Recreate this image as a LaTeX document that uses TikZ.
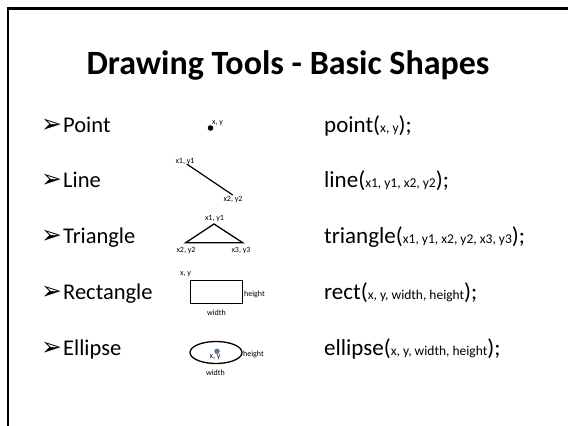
\documentclass[tikz,border=0pt]{standalone}
\usepackage{fontspec}
\setmainfont{Carlito}
\newfontfamily\symfont{DejaVu Sans}
\definecolor{dotblue}{RGB}{79,129,189}
\newcommand{\fsz}[1]{\fontsize{#1}{#1}\selectfont}
\begin{document}
\begin{tikzpicture}[x=1pt,y=-1pt,
  title/.style={anchor=base,inner sep=0pt,font=\fsz{34}\bfseries},
  item/.style={anchor=base west,inner sep=0pt,font=\fsz{22.5}},
  bul/.style={anchor=base west,inner sep=0pt,font=\symfont\fsz{25}},
  code/.style={anchor=base west,inner sep=0pt,font=\fsz{23}},
  lab/.style={inner sep=0pt,font=\fsz{8}},
  shape line/.style={draw=black,line width=1.3pt,line join=miter}]
\useasboundingbox (0,0) rectangle (568,426);
\fill[white] (0,0) rectangle (568,426);
% frame (top and left edges)
\coordinate (fr1) at (568,8.7);
\coordinate (fr2) at (8,8.7);
\coordinate (fr3) at (8,426);
\draw[line width=2.6pt,line cap=rect] (fr1) -- (fr2) -- (fr3);
% title
\node[title] (ttl) at (288,74) {Drawing Tools - Basic Shapes};
% bullets and items
\foreach \n/\t/\yy in {p/Point/132,l/Line/187.5,t/Triangle/243,r/Rectangle/299,e/Ellipse/355}{
  \node[bul] (b\n) at (41,\yy) {➢};
  \node[item] (i\n) at (63,\yy) {\t};
}
% code column
\node[code] (cp) at (324,132) {point({\fsz{13.5}x, y});};
\node[code] (cl) at (324,187.5) {line({\fsz{13.5}x1, y1, x2, y2});};
\node[code] (ct) at (324,243) {triangle({\fsz{13.5}x1, y1, x2, y2, x3, y3});};
\node[code] (cr) at (324,299) {rect({\fsz{13.5}x, y, width, height});};
\node[code] (ce) at (324,355) {ellipse({\fsz{13.5}x, y, width, height});};
% point
\fill[black] (210.5,128) circle (2.8);
\node[lab] (pxy) at (217.5,123.5) {x, y};
% line
\coordinate (l1) at (186.7,164);
\coordinate (l2) at (232.7,195);
\draw[line width=1.2pt] (l1) -- (l2);
\node[lab] (l1t) at (185,161.5) {x1, y1};
\node[lab] (l2t) at (233,200) {x2, y2};
% triangle
\coordinate (t1) at (214,224);
\coordinate (t2) at (185.7,242.7);
\coordinate (t3) at (242.7,242.7);
\draw[shape line] (t1) -- (t2) -- (t3) -- cycle;
\node[lab] (t1t) at (214.5,218.5) {x1, y1};
\node[lab] (t2t) at (186,251) {x2, y2};
\node[lab] (t3t) at (241,251) {x3, y3};
% rectangle
\coordinate (r1) at (190.7,280.7);
\coordinate (r2) at (242.3,303.7);
\draw[shape line] (r1) rectangle (r2);
\node[lab] (rxy) at (185.5,274.5) {x, y};
\node[lab] (rh) at (254.5,294) {height};
\node[lab] (rw) at (216.5,312.5) {width};
% ellipse
\coordinate (ec) at (216,352.5);
\draw[shape line] (ec) ellipse [x radius=26,y radius=11];
\node[lab] (exy) at (215,357.5) {x, y};
\fill[dotblue,draw=dotblue!70!black,line width=0.4pt] (217,351.3) circle (2.4);
\node[lab] (eh) at (253.5,354.5) {height};
\node[lab] (ew) at (215.5,372.5) {width};
\end{tikzpicture}
\end{document}
